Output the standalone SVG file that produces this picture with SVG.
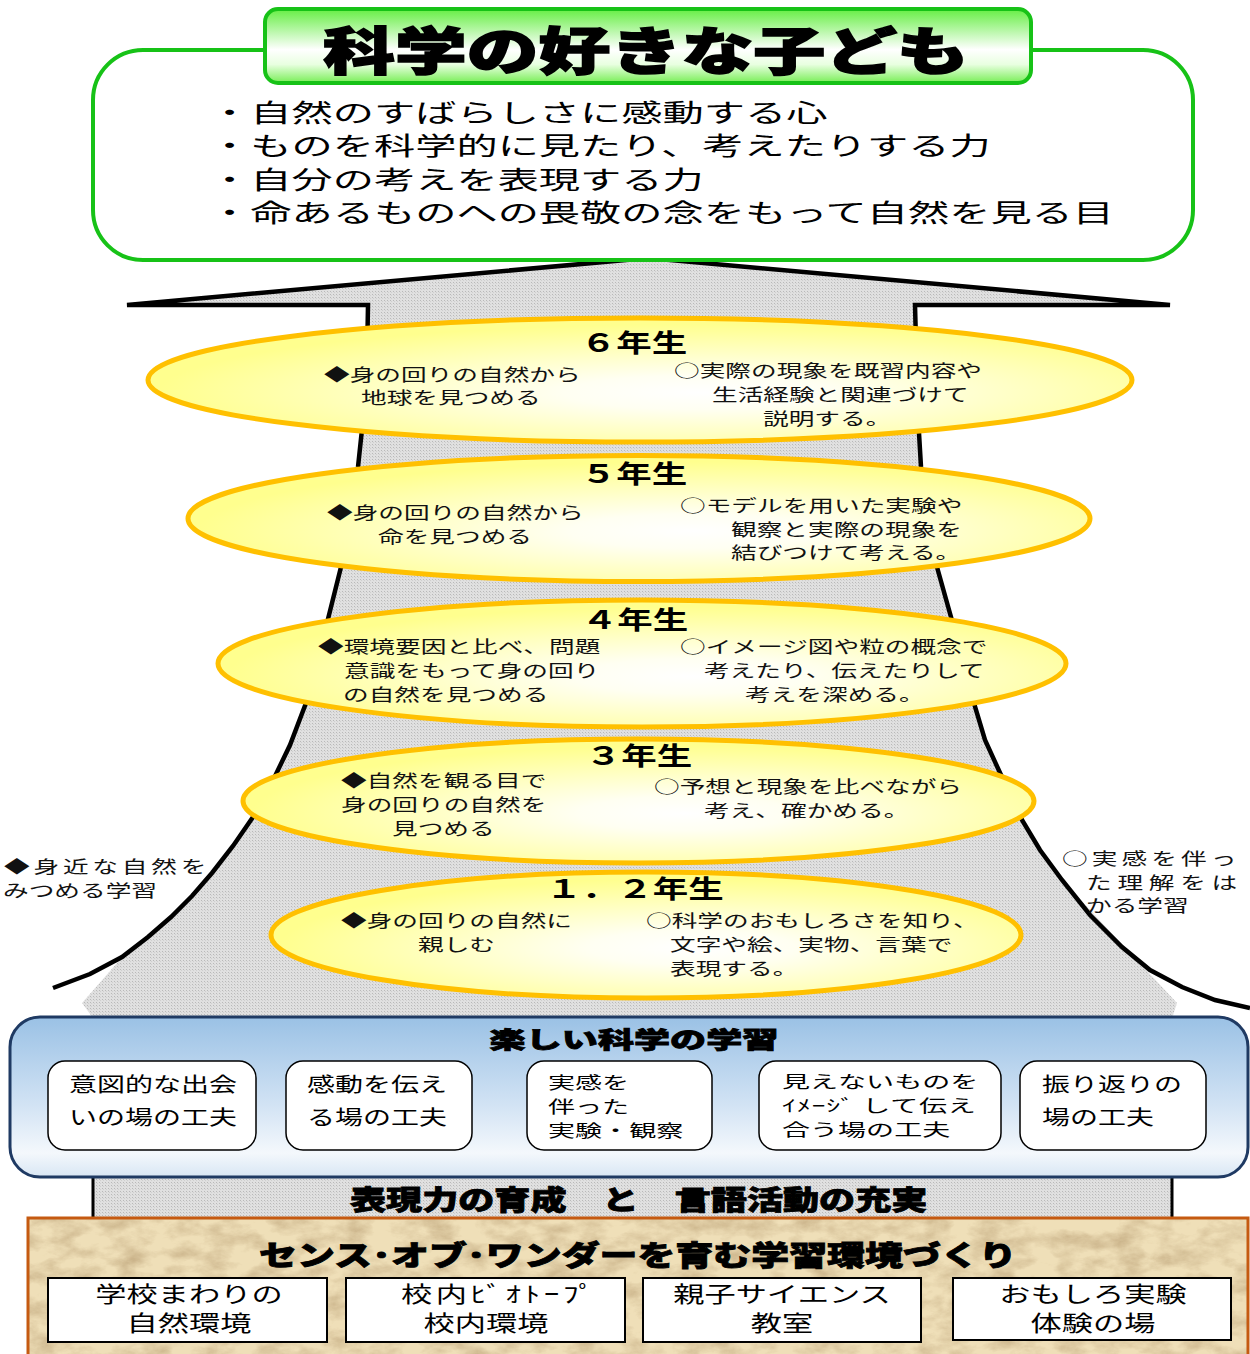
<svg xmlns="http://www.w3.org/2000/svg" width="1250" height="1354" viewBox="0 0 1250 1354">
<defs>
<style>
.jp{font-family:"Noto Sans CJK JP","Noto Sans",sans-serif;fill:#000}
.c{text-anchor:middle}
.hv{font-weight:900;stroke:#000;stroke-width:0.8}
.bul{font-size:25px}
.ttl{font-size:51px;font-weight:900;stroke:#000;stroke-width:1.6}
.hd{font-size:25px;font-weight:bold}
.el{font-size:17px;fill:#111}
.bx{font-size:20px}
.bx3{font-size:16.5px}
.bt{font-size:23px}
.band{font-size:27px}
.ot{font-size:28px}
.bb{font-size:22px}
.ell{stroke:#ffc000;stroke-width:5;fill:url(#yel)}
.ibox{fill:#fff;stroke:#000;stroke-width:1.5}
.sbox{fill:#fff;stroke:#000;stroke-width:2}
.outline{fill:none;stroke:#000;stroke-width:4.5;stroke-linejoin:miter;stroke-miterlimit:4}
</style>
<pattern id="dots" width="3" height="3" patternUnits="userSpaceOnUse">
<rect width="3" height="3" fill="#e0e0e0"/>
<rect width="1" height="1" fill="#b9b9b9"/>
<rect x="1" y="1" width="1" height="1" fill="#cfcfcf"/>
</pattern>
<radialGradient id="yel" cx="0.56" cy="0.6" r="0.55">
<stop offset="0" stop-color="#ffffff"/>
<stop offset="0.25" stop-color="#fffff2"/>
<stop offset="1" stop-color="#ffff8e"/>
</radialGradient>
<linearGradient id="grn" x1="0" y1="0" x2="0" y2="1">
<stop offset="0" stop-color="#66ee44"/>
<stop offset="0.55" stop-color="#ffffff"/>
<stop offset="0.75" stop-color="#e8ffe0"/>
<stop offset="1" stop-color="#77ee55"/>
</linearGradient>
<linearGradient id="blu" x1="0" y1="0" x2="0" y2="1">
<stop offset="0" stop-color="#9ac1e5"/>
<stop offset="0.55" stop-color="#d2e3f4"/>
<stop offset="0.85" stop-color="#f4f8fc"/>
<stop offset="1" stop-color="#d8e6f4"/>
</linearGradient>
<filter id="paper" x="0" y="0" width="1" height="1">
<feTurbulence type="fractalNoise" baseFrequency="0.035 0.06" numOctaves="5" seed="11" result="n"/>
<feColorMatrix in="n" type="matrix" values="0 0 0 0 0.6  0 0 0 0 0.46  0 0 0 0 0.26  1.9 0 0 0 -0.72" result="c"/>
<feComposite in="c" in2="SourceGraphic" operator="in"/>
</filter>
</defs>

<rect width="1250" height="1354" fill="#fff"/>

<g id="connectors">
<path id="growth-arrow-fill" fill="url(#dots)" d="M127,305 L648,258 L1170,305 L915,305 L917,380 L919,433 L921,467 L928,520 L937,567 L951,617 L962,660 L973,700 L985,740 L1001,775 L1022,820 L1040,850 L1062,880 L1177,1003 L1172,1018 L1172,1218 L93,1218 L93,1018 L82,1003 L118,962 L146,940 L169,920 L190,899 L210,876 L231,849 L253,817 L266,795 L278,770 L290,745 L306,703 L319,655 L331,607 L341,567 L350,520 L358,467 L363,420 L367,360 L368,305 Z"/>
<path id="growth-arrow-outline" class="outline" d="M53,988 L90,974 L122,957 L148,937 L171,917 L192,896 L212,873 L233,846 L253,817 L266,795 L278,770 L290,745 L306,703 L319,655 L331,607 L341,567 L350,520 L358,467 L363,420 L367,360 L368,305 L127,305 L648,258 L1170,305 L915,305 L917,380 L919,433 L921,467 L928,520 L937,567 L951,617 L962,660 L973,700 L985,740 L1001,775 L1022,820 L1040,850 L1062,880 L1090,915 L1122,947 L1150,970 L1182,987 L1215,1000 L1250,1008"/>
<path d="M93,1175 V1219 M1172,1175 V1219" stroke="#000" stroke-width="3" fill="none"/>
</g>

<g id="goal-box">
<rect x="93" y="50" width="1100" height="210" rx="50" ry="50" fill="#fff" stroke="#17c217" stroke-width="4"/>
<text class="jp bul" transform="translate(209 122) scale(1.65 1)">・自然のすばらしさに感動する心</text>
<text class="jp bul" transform="translate(209 155) scale(1.65 1)">・ものを科学的に見たり、考えたりする力</text>
<text class="jp bul" transform="translate(209 189) scale(1.65 1)">・自分の考えを表現する力</text>
<text class="jp bul" transform="translate(209 222) scale(1.65 1)">・命あるものへの畏敬の念をもって自然を見る目</text>
</g>

<g id="title">
<rect x="265" y="9" width="766" height="74" rx="13" ry="13" fill="url(#grn)" stroke="#17c217" stroke-width="4"/>
<text class="jp ttl c" transform="translate(646 69.5) scale(1.406 1)">科学の好きな子ども</text>
</g>

<g id="grade6">
<ellipse class="ell" cx="640" cy="380" rx="492" ry="62"/>
<text class="jp hd c" transform="translate(634 352) scale(1.42 1)">６年生</text>
<text class="jp el" transform="translate(324 381) scale(1.51 1)">◆身の回りの自然から</text>
<text class="jp el" transform="translate(361 404) scale(1.51 1)">地球を見つめる</text>
<text class="jp el" transform="translate(674 377) scale(1.51 1)">○実際の現象を既習内容や</text>
<text class="jp el" transform="translate(712 401) scale(1.51 1)">生活経験と関連づけて</text>
<text class="jp el" transform="translate(763 425) scale(1.51 1)">説明する。</text>
</g>

<g id="grade5">
<ellipse class="ell" cx="639" cy="518.5" rx="451" ry="63"/>
<text class="jp hd c" transform="translate(634 483) scale(1.42 1)">５年生</text>
<text class="jp el" transform="translate(327 519) scale(1.51 1)">◆身の回りの自然から</text>
<text class="jp el" transform="translate(378 543) scale(1.51 1)">命を見つめる</text>
<text class="jp el" transform="translate(680 512) scale(1.51 1)">○モデルを用いた実験や</text>
<text class="jp el" transform="translate(731 536) scale(1.51 1)">観察と実際の現象を</text>
<text class="jp el" transform="translate(731 559) scale(1.51 1)">結びつけて考える。</text>
</g>

<g id="grade4">
<ellipse class="ell" cx="642" cy="663.5" rx="424" ry="63.5"/>
<text class="jp hd c" transform="translate(635 629) scale(1.42 1)">４年生</text>
<text class="jp el" transform="translate(318 653) scale(1.51 1)">◆環境要因と比べ、問題</text>
<text class="jp el" transform="translate(344 677) scale(1.51 1)">意識をもって身の回り</text>
<text class="jp el" transform="translate(343 701) scale(1.51 1)">の自然を見つめる</text>
<text class="jp el" transform="translate(680 653) scale(1.51 1)">○イメージ図や粒の概念で</text>
<text class="jp el" transform="translate(704 677) scale(1.51 1)">考えたり、伝えたりして</text>
<text class="jp el" transform="translate(745 701) scale(1.51 1)">考えを深める。</text>
</g>

<g id="grade3">
<ellipse class="ell" cx="638.5" cy="801" rx="395.5" ry="62"/>
<text class="jp hd c" transform="translate(639 765) scale(1.42 1)">３年生</text>
<text class="jp el" transform="translate(341 787) scale(1.51 1)">◆自然を観る目で</text>
<text class="jp el" transform="translate(341 811) scale(1.51 1)">身の回りの自然を</text>
<text class="jp el" transform="translate(392 835) scale(1.51 1)">見つめる</text>
<text class="jp el" transform="translate(654 793) scale(1.51 1)">○予想と現象を比べながら</text>
<text class="jp el" transform="translate(704 817) scale(1.51 1)">考え、確かめる。</text>
</g>

<g id="grade12">
<ellipse class="ell" cx="646" cy="935" rx="375" ry="63"/>
<text class="jp hd c" transform="translate(635 898) scale(1.42 1)">１．２年生</text>
<text class="jp el" transform="translate(341 927) scale(1.51 1)">◆身の回りの自然に</text>
<text class="jp el" transform="translate(418 951) scale(1.51 1)">親しむ</text>
<text class="jp el" transform="translate(646 927) scale(1.51 1)">○科学のおもしろさを知り、</text>
<text class="jp el" transform="translate(670 951) scale(1.51 1)">文字や絵、実物、言葉で</text>
<text class="jp el" transform="translate(670 975) scale(1.51 1)">表現する。</text>
</g>

<g id="side-left">
<text class="jp el" style="letter-spacing:2.5px" transform="translate(4 873) scale(1.51 1)">◆身近な自然を</text>
<text class="jp el" transform="translate(3 897) scale(1.51 1)">みつめる学習</text>
</g>

<g id="side-right">
<text class="jp el" style="letter-spacing:2.7px" transform="translate(1062 865) scale(1.51 1)">○実感を伴っ</text>
<text class="jp el" style="letter-spacing:3.8px" transform="translate(1086 889) scale(1.51 1)">た理解をは</text>
<text class="jp el" transform="translate(1086 912) scale(1.51 1)">かる学習</text>
</g>

<g id="fun-science">
<rect x="10" y="1017" width="1238" height="160" rx="30" ry="30" fill="url(#blu)" stroke="#1f3a63" stroke-width="3"/>
<text class="jp bt hv c" transform="translate(634 1048) scale(1.57 1)">楽しい科学の学習</text>
</g>

<g id="box-deai">
<rect class="ibox" x="48" y="1061" width="208" height="89" rx="17"/>
<text class="jp bx" transform="translate(69 1092) scale(1.4 1)">意図的な出会</text>
<text class="jp bx" transform="translate(69 1125) scale(1.4 1)">いの場の工夫</text>
</g>
<g id="box-kando">
<rect class="ibox" x="286" y="1061" width="186" height="89" rx="17"/>
<text class="jp bx" transform="translate(307 1092) scale(1.4 1)">感動を伝え</text>
<text class="jp bx" transform="translate(307 1125) scale(1.4 1)">る場の工夫</text>
</g>
<g id="box-jikken">
<rect class="ibox" x="527" y="1061" width="185" height="89" rx="17"/>
<text class="jp bx3" transform="translate(548 1089) scale(1.64 1)">実感を</text>
<text class="jp bx3" transform="translate(548 1113) scale(1.64 1)">伴った</text>
<text class="jp bx3" transform="translate(548 1137) scale(1.64 1)">実験・観察</text>
</g>
<g id="box-image">
<rect class="ibox" x="759" y="1061" width="242" height="89" rx="17"/>
<text class="jp bx3" transform="translate(782 1088) scale(1.7 1)">見えないものを</text>
<text class="jp bx3" textLength="114" lengthAdjust="spacing" transform="translate(782 1112) scale(1.7 1)">ｲﾒｰｼﾞ して伝え</text>
<text class="jp bx3" transform="translate(782 1136) scale(1.7 1)">合う場の工夫</text>
</g>
<g id="box-furikaeri">
<rect class="ibox" x="1020" y="1061" width="186" height="89" rx="17"/>
<text class="jp bx" transform="translate(1042 1092) scale(1.4 1)">振り返りの</text>
<text class="jp bx" transform="translate(1042 1125) scale(1.4 1)">場の工夫</text>
</g>

<g id="expression-band">
<text class="jp band hv" transform="translate(350 1210) scale(1.337 1)">表現力の育成　と　言語活動の充実</text>
</g>

<g id="sense-of-wonder">
<rect x="28" y="1218" width="1220" height="160" fill="#efdfb8"/>
<rect x="28" y="1218" width="1220" height="160" fill="#000" filter="url(#paper)"/>
<rect x="28" y="1218" width="1220" height="160" fill="none" stroke="#c55a11" stroke-width="3"/>
<text class="jp ot hv" transform="translate(259 1266) scale(1.355 1)">センス･オブ･ワンダーを育む学習環境づくり</text>
</g>

<g id="env-nature">
<rect class="sbox" x="48" y="1278" width="279" height="64"/>
<text class="jp bb c" transform="translate(189 1302) scale(1.42 1)">学校まわりの</text>
<text class="jp bb c" transform="translate(189 1331) scale(1.42 1)">自然環境</text>
</g>
<g id="env-biotope">
<rect class="sbox" x="346" y="1278" width="279" height="64"/>
<text class="jp bb" textLength="136" lengthAdjust="spacing" transform="translate(401 1302) scale(1.42 1)">校内ﾋﾞｵﾄｰﾌﾟ</text>
<text class="jp bb c" transform="translate(486 1331) scale(1.42 1)">校内環境</text>
</g>
<g id="env-science">
<rect class="sbox" x="643" y="1278" width="278" height="64"/>
<text class="jp bb c" transform="translate(782 1302) scale(1.42 1)">親子サイエンス</text>
<text class="jp bb c" transform="translate(782 1331) scale(1.42 1)">教室</text>
</g>
<g id="env-experiment">
<rect class="sbox" x="953" y="1278" width="278" height="62"/>
<text class="jp bb c" transform="translate(1093 1302) scale(1.42 1)">おもしろ実験</text>
<text class="jp bb c" transform="translate(1093 1331) scale(1.42 1)">体験の場</text>
</g>
</svg>
